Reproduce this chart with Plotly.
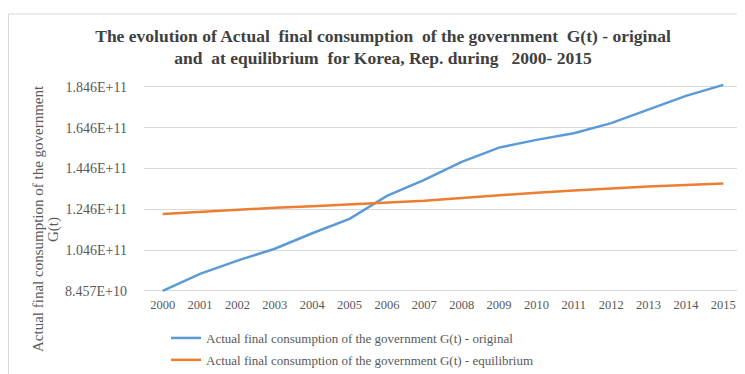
import plotly.graph_objects as go

years = [str(y) for y in range(2000, 2016)]
original = [8.457e10, 9.29e10, 9.94e10, 10.52e10, 11.28e10, 11.99e10, 13.11e10, 13.90e10,
            14.78e10, 15.48e10, 15.86e10, 16.19e10, 16.68e10, 17.36e10, 18.02e10, 18.56e10]
equilibrium = [12.22e10, 12.33e10, 12.43e10, 12.53e10, 12.61e10, 12.69e10, 12.77e10, 12.87e10,
               13.01e10, 13.15e10, 13.27e10, 13.38e10, 13.49e10, 13.58e10, 13.65e10, 13.72e10]
ytick_vals = [8.457e10, 1.046e11, 1.246e11, 1.446e11, 1.646e11, 1.846e11]
ytick_text = ["8.457E+10", "1.046E+11", "1.246E+11", "1.446E+11", "1.646E+11", "1.846E+11"]

name_orig = "Actual final consumption of the government G(t) - original"
name_eq = "Actual final consumption of the government G(t) - equilibrium"
title = ("The evolution of Actual  final consumption  of the government  G(t) - original<br>"
         "and  at equilibrium  for Korea, Rep. during   2000- 2015")
ytitle_1 = "Actual final consumption of the government"
ytitle_2 = "G(t)"

serif = "Liberation Serif, Times New Roman, serif"

# layout geometry (figure pixel coordinates)
W, H = 745, 374
L, R, T, B = 136, 11, 75, 90
PW, PH = W - L - R, H - T - B


def px_x(x):
    return (x - L) / PW


def px_y(y):
    return (H - B - y) / PH


fig = go.Figure()
fig.add_trace(go.Scatter(x=years, y=original, mode="lines", name=name_orig, legendgroup="a",
                         line=dict(color="#5b9bd5", width=2.5)))
fig.add_trace(go.Scatter(x=years, y=equilibrium, mode="lines", name=name_eq, legendgroup="b",
                         line=dict(color="#ed7d31", width=2.5)))

ytitle_font = dict(family=serif, size=15, color="#595959")

fig.update_layout(
    width=W, height=H,
    margin=dict(l=L, r=R, t=T, b=B, autoexpand=False),
    paper_bgcolor="white", plot_bgcolor="white",
    font=dict(family=serif, size=12, color="#595959"),
    title=dict(text=title, x=375 / W, xanchor="center", y=1 - 33.5 / H, yanchor="middle",
               font=dict(family=serif, size=17.5, color="#404040", weight="bold")),
    showlegend=True,
    legend=dict(x=px_x(158), xanchor="left", y=px_y(315), yanchor="top", orientation="v",
                font=dict(family=serif, size=13, color="#595959"),
                tracegroupgap=2, itemwidth=30, bgcolor="rgba(0,0,0,0)"),
    xaxis=dict(type="category", range=[-0.5, 15.5], showgrid=False,
               showline=False, ticks="", ticklabelstandoff=3,
               tickfont=dict(family=serif, size=12.5, color="#595959")),
    yaxis=dict(range=[8.40e10, 1.865e11], tickvals=ytick_vals, ticktext=ytick_text,
               showgrid=True, gridcolor="#d9d9d9", gridwidth=1, zeroline=False,
               showline=False, ticks="", ticklabelstandoff=16,
               tickfont=dict(family=serif, size=14, color="#595959")),
    annotations=[
        dict(text=ytitle_1, textangle=-90, xref="paper", yref="paper",
             x=px_x(30), y=px_y(211), xanchor="center", yanchor="middle",
             showarrow=False, font=ytitle_font),
        dict(text=ytitle_2, textangle=-90, xref="paper", yref="paper",
             x=px_x(45), y=px_y(222), xanchor="center", yanchor="middle",
             showarrow=False, font=ytitle_font),
    ],
    shapes=[dict(type="rect", xref="paper", yref="paper",
                 x0=px_x(0.5), x1=px_x(W + 10), y0=px_y(H + 10), y1=px_y(6),
                 line=dict(color="#d9d9d9", width=1), layer="below")],
)

fig.write_html("out.html")
